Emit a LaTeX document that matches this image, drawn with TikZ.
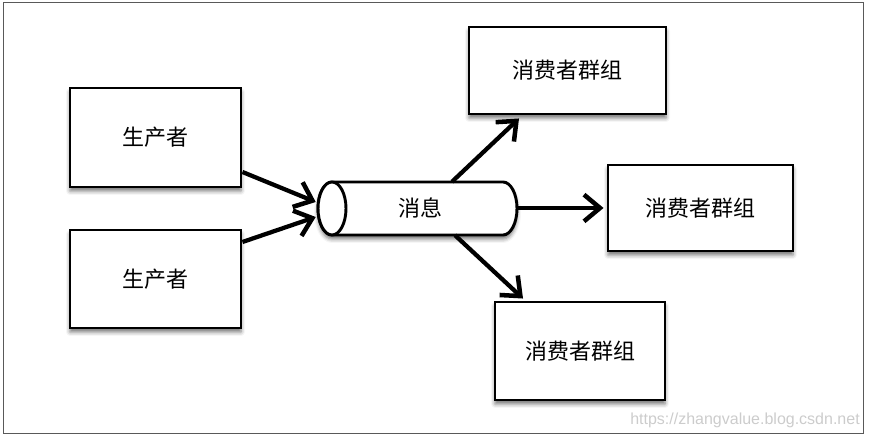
\documentclass[tikz,border=0pt]{standalone}
\usepackage{fontspec}
\newfontfamily\cjk{Noto Sans CJK SC}
\newfontfamily\wmfont{Liberation Sans}
\usetikzlibrary{arrows.meta,shadows.blur,calc}
\begin{document}
\begin{tikzpicture}[x=0.75pt,y=0.75pt,
  shad/.style={blur shadow={shadow xshift=0pt, shadow yshift=-3pt, shadow blur radius=3pt, shadow opacity=55}},
  box/.style={draw=black, line width=2.2pt, fill=white, inner sep=0pt, shad,
    font=\cjk\fontsize{16.5}{18}\selectfont},
  conn/.style={line width=3.2pt, -{Straight Barb[length=12pt,width=20pt,line width=3.4pt]}},
  lbl/.style={font=\cjk\fontsize{16.5}{18}\selectfont, inner sep=0pt}
]
\useasboundingbox (0,0) rectangle (870,438);
\draw[line width=0.75pt, black!65] (3,4) rectangle (863,435);

% producers
\node[box, minimum width=171*0.75pt, minimum height=99*0.75pt] (p1) at (155.5,300.5) {生产者};
\node[box, minimum width=171*0.75pt, minimum height=98*0.75pt] (p2) at (155.5,159) {生产者};

% consumers
\node[box, minimum width=197*0.75pt, minimum height=87*0.75pt] (c1) at (567.5,367.5) {消费者群组};
\node[box, minimum width=185*0.75pt, minimum height=86*0.75pt] (c2) at (700.5,230) {消费者群组};
\node[box, minimum width=170*0.75pt, minimum height=98*0.75pt] (c3) at (580,87) {消费者群组};

% message queue (cylinder)
\path[fill=white, draw=black, line width=2.2pt, shad]
  (332,256) -- (503,256) arc[start angle=90, end angle=-90, x radius=10.5pt, y radius=19.875pt]
  -- (332,203) arc[start angle=270, end angle=90, x radius=10.5pt, y radius=19.875pt] -- cycle;
\draw[line width=2.2pt, fill=white] (332,229.5) ellipse [x radius=10.5pt, y radius=19.875pt];
\node[lbl, minimum width=199*0.75pt, minimum height=53*0.75pt] (msg) at (417.5,229.5) {\hspace*{5pt}消息};

% connectors
\draw[conn] ($(p1.east)+(0,-34.5)$) -- ($(msg.west)+(-2,6.5)$);
\draw[conn] ($(p2.east)+(0,37)$) -- ($(msg.west)+(-2,-8.5)$);
\draw[conn] ($(msg.north)+(34.5,0)$) -- ($(c1.south)+(-48.5,-3)$);
\draw[conn] (msg.east |- c2.west) -- ($(c2.west)+(-3,0)$);
\draw[conn] ($(msg.south)+(37.5,0)$) -- ($(c3.north)+(-57,2)$);

% watermark
\node[anchor=east, inner sep=0pt, font=\wmfont\fontsize{12}{14}\selectfont, text=black!20] (wm) at (860,18) {https://zhangvalue.blog.csdn.net};
\end{tikzpicture}
\end{document}
